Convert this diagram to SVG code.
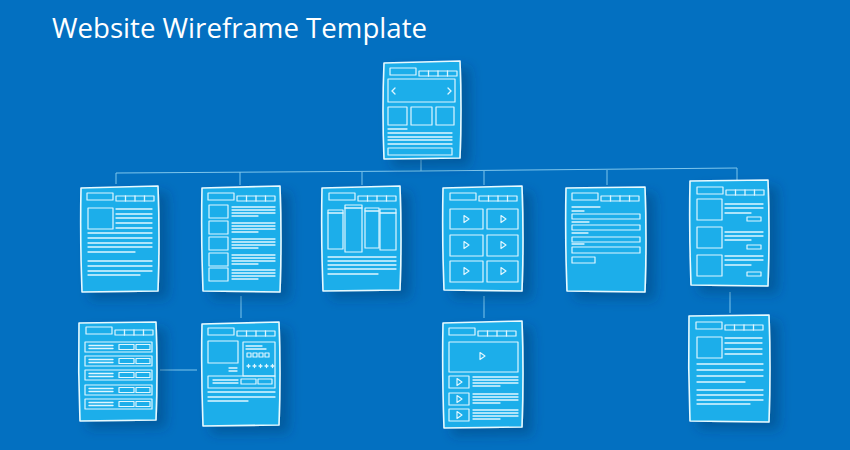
<svg xmlns="http://www.w3.org/2000/svg" xmlns:xlink="http://www.w3.org/1999/xlink" width="850" height="450" viewBox="0 0 850 450">
<style>
.pg{fill:#1BAEEA;stroke:#E8FAFF;stroke-width:1.6;stroke-linejoin:round}
.l{stroke:#DDF6FF;stroke-width:1.3;fill:none;stroke-linecap:round}
.b{stroke:#DDF6FF;stroke-width:1.2;fill:none;stroke-linejoin:round}
.c{stroke:#7FC6EC;stroke-width:1;fill:none}
.t{font-family:"Open Sans","Noto Sans",sans-serif;font-size:27px;fill:#FFFFFF}
</style>
<defs>
<filter id="sh" x="-20%" y="-20%" width="160%" height="160%">
<feDropShadow dx="9" dy="7" stdDeviation="6" flood-color="#00315F" flood-opacity="0.35"/>
</filter>
<g id="hdr">
<rect class="b" x="0" y="0" width="26" height="7"/>
<rect class="b" x="29" y="3" width="38" height="5"/>
<path class="l" d="M38.5,3V8M48,3V8M57.5,3V8"/>
</g>
<path id="play" class="b" d="M-2,-3.5L3,0L-2,3.5Z"/>
</defs>
<rect width="850" height="450" fill="#0370C1"/>
<text class="t" x="52" y="38" textLength="375" lengthAdjust="spacingAndGlyphs">Website Wireframe Template</text>

<g id="connectors">
<path class="c" d="M421,160V171"/>
<path class="c" d="M116,184V173L421,171L737,168V180"/>
<path class="c" d="M240,172V185M362,172V185M484,171V185M607,170V185"/>
<path class="c" d="M241,296V318"/>
<path class="c" d="M160,370H197"/>
<path class="c" d="M484,296V318"/>
<path class="c" d="M730,292V313"/>
</g>

<g id="home">
<path class="pg" filter="url(#sh)" d="M384,63L460,61Q462,110 460,158L384,159Q382,110 384,63Z"/>
<use xlink:href="#hdr" x="390" y="68"/>
<rect class="b" x="388" y="79" width="67" height="23"/>
<path class="l" stroke-width="2" d="M395,88L392,91L395,94M448,88L451,91L448,94"/>
<rect class="b" x="388" y="107" width="19" height="18"/>
<rect class="b" x="411" y="107" width="21" height="18"/>
<rect class="b" x="436" y="107" width="18" height="18"/>
<path class="l" d="M388,129H407M388,133H452M388,137H452M388,140H452M388,144H452"/>
<rect class="b" x="388" y="148" width="64" height="7"/>
</g>

<g id="page-article">
<path class="pg" filter="url(#sh)" d="M81,188L158,186Q160,240 158,291L82,292Q80,240 81,188Z"/>
<use xlink:href="#hdr" x="87" y="193"/>
<rect class="b" x="88" y="208" width="25" height="21"/>
<path class="l" d="M116,209H152M116,214H152M116,218H152M116,223H152M116,228H152"/>
<path class="l" d="M88,233H152M88,238H152M88,243H152M88,247H152M88,252H135"/>
<path class="l" d="M88,261H152M88,266H152M88,271H152M88,275H140"/>
</g>

<g id="page-list">
<path class="pg" filter="url(#sh)" d="M202,188L280,186Q282,240 280,292L203,291Q201,240 202,188Z"/>
<use xlink:href="#hdr" x="208" y="193"/>
<rect class="b" x="209" y="205" width="19" height="13"/>
<path class="l" d="M232,207H275M232,210H275M232,213H275M232,216H258"/>
<rect class="b" x="209" y="221" width="19" height="13"/>
<path class="l" d="M232,223H275M232,226H275M232,229H275M232,232H258"/>
<rect class="b" x="209" y="237" width="19" height="13"/>
<path class="l" d="M232,239H275M232,242H275M232,245H275M232,248H258"/>
<rect class="b" x="209" y="253" width="19" height="13"/>
<path class="l" d="M232,255H275M232,258H275M232,261H275M232,264H258"/>
<rect class="b" x="209" y="268" width="19" height="13"/>
<path class="l" d="M232,270H275M232,273H275M232,276H275M232,279H258"/>
</g>

<g id="page-columns">
<path class="pg" filter="url(#sh)" d="M322,188L400,186Q402,240 400,290L323,291Q321,240 322,188Z"/>
<use xlink:href="#hdr" x="329" y="193"/>
<rect class="b" x="328" y="210" width="15" height="39"/>
<rect class="b" x="345" y="205" width="17" height="47"/>
<rect class="b" x="365" y="208" width="14" height="40"/>
<rect class="b" x="380" y="209" width="16" height="41"/>
<path class="l" d="M345,208H362M328,213H343M365,211H379M380,213H396"/>
<path class="l" d="M328,257H396M328,261H396M328,265H396M328,269H396M328,274H378"/>
</g>

<g id="page-videos">
<path class="pg" filter="url(#sh)" d="M443,188L522,186Q524,240 522,291L444,290Q442,240 443,188Z"/>
<use xlink:href="#hdr" x="450" y="193"/>
<rect class="b" x="450" y="209" width="33" height="20"/>
<rect class="b" x="487" y="209" width="31" height="20"/>
<rect class="b" x="450" y="235" width="33" height="21"/>
<rect class="b" x="487" y="235" width="31" height="21"/>
<rect class="b" x="450" y="261" width="33" height="21"/>
<rect class="b" x="487" y="261" width="31" height="21"/>
<use xlink:href="#play" x="466" y="219"/>
<use xlink:href="#play" x="503" y="219"/>
<use xlink:href="#play" x="466" y="245"/>
<use xlink:href="#play" x="503" y="245"/>
<use xlink:href="#play" x="466" y="271"/>
<use xlink:href="#play" x="503" y="271"/>
</g>

<g id="page-form">
<path class="pg" filter="url(#sh)" d="M566,188L645,187Q647,240 645,292L567,291Q565,240 566,188Z"/>
<use xlink:href="#hdr" x="572" y="193"/>
<path class="l" d="M572,207H600M572,211H584"/>
<rect class="b" x="572" y="214" width="68" height="5"/>
<path class="l" d="M572,222H589"/>
<rect class="b" x="572" y="225" width="68" height="5"/>
<path class="l" d="M572,233H588"/>
<rect class="b" x="572" y="237" width="68" height="5"/>
<path class="l" d="M572,244H584"/>
<rect class="b" x="572" y="247" width="68" height="6"/>
<rect class="b" x="572" y="257" width="23" height="6"/>
</g>

<g id="page-blog">
<path class="pg" filter="url(#sh)" d="M690,181L768,180Q770,232 768,286L691,285Q689,232 690,181Z"/>
<use xlink:href="#hdr" x="697" y="187"/>
<rect class="b" x="697" y="199" width="25" height="21"/>
<path class="l" d="M725,204H763M725,208H763M725,213H751"/>
<rect class="b" x="747" y="217" width="14" height="4"/>
<rect class="b" x="697" y="227" width="25" height="21"/>
<path class="l" d="M725,232H763M725,236H763M725,240H751"/>
<rect class="b" x="747" y="245" width="14" height="4"/>
<rect class="b" x="697" y="255" width="25" height="21"/>
<path class="l" d="M725,256H763M725,260H763M725,265H751"/>
<rect class="b" x="747" y="272" width="14" height="4"/>
</g>

<g id="page-table">
<path class="pg" filter="url(#sh)" d="M79,323L156,322Q158,372 156,420L80,421Q78,372 79,323Z"/>
<use xlink:href="#hdr" x="86" y="327"/>
<rect class="b" x="85" y="342" width="67" height="10"/>
<path class="l" d="M89,345.5H113M89,348.5H113"/>
<rect class="b" x="119" y="344.5" width="15" height="5"/>
<rect class="b" x="136" y="344.5" width="14" height="5"/>
<rect class="b" x="85" y="356" width="67" height="10"/>
<path class="l" d="M89,359.5H113M89,362.5H113"/>
<rect class="b" x="119" y="358.5" width="15" height="5"/>
<rect class="b" x="136" y="358.5" width="14" height="5"/>
<rect class="b" x="85" y="370" width="67" height="10"/>
<path class="l" d="M89,373.5H113M89,376.5H113"/>
<rect class="b" x="119" y="372.5" width="15" height="5"/>
<rect class="b" x="136" y="372.5" width="14" height="5"/>
<rect class="b" x="85" y="385" width="67" height="10"/>
<path class="l" d="M89,388.5H113M89,391.5H113"/>
<rect class="b" x="119" y="387.5" width="15" height="5"/>
<rect class="b" x="136" y="387.5" width="14" height="5"/>
<rect class="b" x="85" y="399" width="67" height="10"/>
<path class="l" d="M89,402.5H113M89,405.5H113"/>
<rect class="b" x="119" y="401.5" width="15" height="5"/>
<rect class="b" x="136" y="401.5" width="14" height="5"/>
</g>

<g id="page-product">
<path class="pg" filter="url(#sh)" d="M202,324L279,322Q281,372 279,425L203,426Q201,372 202,324Z"/>
<use xlink:href="#hdr" x="208" y="328"/>
<rect class="b" x="208" y="341" width="30" height="22"/>
<rect class="b" x="243" y="342" width="32" height="34"/>
<path class="l" d="M246,346H262M246,349H266"/>
<rect class="b" x="247" y="353" width="4" height="4"/>
<rect class="b" x="253" y="353" width="4" height="4"/>
<rect class="b" x="259" y="353" width="4" height="4"/>
<rect class="b" x="265" y="353" width="4" height="4"/>
<path class="l" d="M247,366h3M248.5,364.5v3M253,366h3M254.5,364.5v3M259,366h3M260.5,364.5v3M265,366h3M266.5,364.5v3M271,366h3M272.5,364.5v3"/>
<path class="l" d="M229,368H237M229,371H237"/>
<rect class="b" x="208" y="376" width="67" height="12"/>
<path class="l" d="M213,380H238M213,383H238"/>
<rect class="b" x="241" y="379" width="15" height="5"/>
<rect class="b" x="258" y="379" width="14" height="5"/>
<path class="l" d="M208,392H275M208,397H275M208,401H248"/>
</g>

<g id="page-video">
<path class="pg" filter="url(#sh)" d="M443,323L522,321Q524,372 522,427L444,428Q442,372 443,323Z"/>
<use xlink:href="#hdr" x="449" y="328"/>
<rect class="b" x="449" y="342" width="69" height="30"/>
<use xlink:href="#play" x="482" y="356"/>
<rect class="b" x="449" y="376" width="20" height="12"/>
<use xlink:href="#play" x="459" y="382"/>
<path class="l" d="M473,377H518M473,380H518M473,383H518M473,386H500"/>
<rect class="b" x="449" y="393" width="20" height="12"/>
<use xlink:href="#play" x="459" y="399"/>
<path class="l" d="M473,394H518M473,397H518M473,400H518M473,403H500"/>
<rect class="b" x="449" y="409" width="20" height="12"/>
<use xlink:href="#play" x="459" y="415"/>
<path class="l" d="M473,410H518M473,413H518M473,416H518M473,419H500"/>
</g>

<g id="page-detail">
<path class="pg" filter="url(#sh)" d="M689,316L769,315Q771,368 769,422L690,421Q688,368 689,316Z"/>
<use xlink:href="#hdr" x="696" y="322"/>
<rect class="b" x="697" y="337" width="25" height="21"/>
<path class="l" d="M725,338H762M725,343H762M725,349H762M725,354H762"/>
<path class="l" d="M697,364H763M697,370H763M697,376H763M697,382H745"/>
<path class="l" d="M697,390H763M697,395H763M697,400H763M697,404H750"/>
</g>
</svg>
